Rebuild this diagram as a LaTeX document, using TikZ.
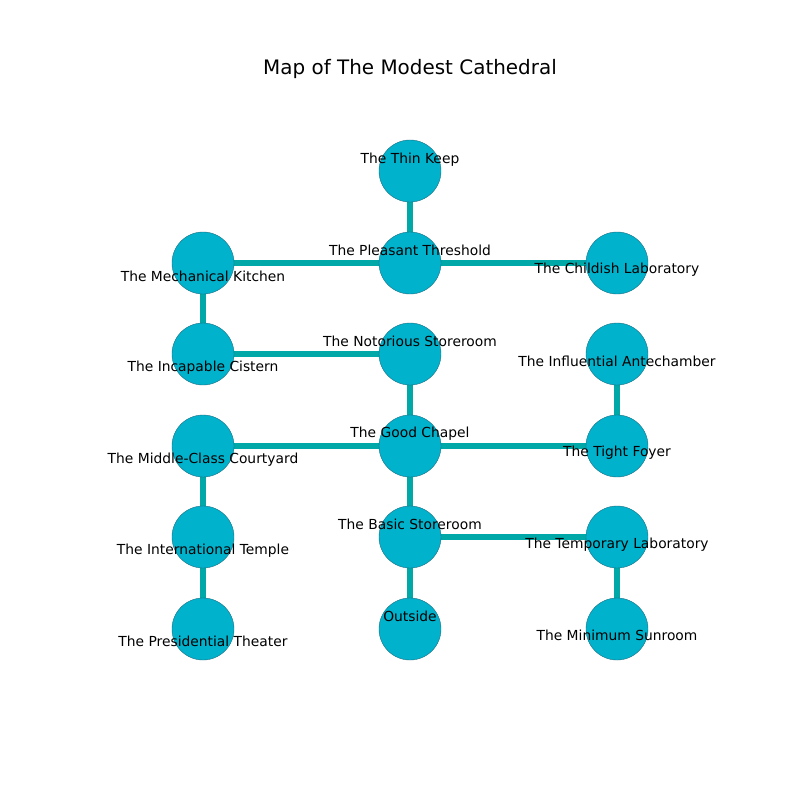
\documentclass[tikz,border=0pt]{standalone}
\usepackage{fontspec}
\setmainfont{DejaVu Sans}
\usetikzlibrary{backgrounds}

\definecolor{roomfill}{RGB}{0,178,204}
\definecolor{roomedge}{RGB}{30,110,130}
\definecolor{passage}{RGB}{0,168,168}

\begin{document}
\begin{tikzpicture}[x=0.254mm, y=-0.254mm,
      room/.style={circle, draw=roomedge, line width=0.3pt, fill=roomfill, minimum size=15.75mm, inner sep=0pt},
      lbl/.style={font=\fontsize{10}{12}\selectfont, inner sep=0pt, yshift=-1.2pt},
      link/.style={draw=passage, line width=4pt}]
      \useasboundingbox (0,0) rectangle (800,800);

      % Title
      \node[font=\fontsize{14.4}{17}\selectfont, yshift=-1.2pt] (title) at (410,67) {Map of The Modest Cathedral};

      % Rooms
      \node[room] (thin) at (410,171) {};
      \node[room] (pleasant) at (410,263) {};
      \node[room] (mechanical) at (203,263) {};
      \node[room] (childish) at (617,263) {};
      \node[room] (incapable) at (203,354) {};
      \node[room] (notorious) at (410,354) {};
      \node[room] (influential) at (617,354) {};
      \node[room] (courtyard) at (203,446) {};
      \node[room] (chapel) at (410,446) {};
      \node[room] (foyer) at (617,446) {};
      \node[room] (temple) at (203,537) {};
      \node[room] (basic) at (410,537) {};
      \node[room] (temporary) at (617,537) {};
      \node[room] (theater) at (203,629) {};
      \node[room] (outside) at (410,629) {};
      \node[room] (sunroom) at (617,629) {};

      % Labels
      \node[lbl] (thin-l) at (410,158) {The Thin Keep};
      \node[lbl] (pleasant-l) at (410,249) {The Pleasant Threshold};
      \node[lbl] (mechanical-l) at (203,275) {The Mechanical Kitchen};
      \node[lbl] (childish-l) at (617,268) {The Childish Laboratory};
      \node[lbl] (incapable-l) at (203,366) {The Incapable Cistern};
      \node[lbl] (notorious-l) at (410,340) {The Notorious Storeroom};
      \node[lbl] (influential-l) at (617,360) {The Influential Antechamber};
      \node[lbl] (courtyard-l) at (203,458) {The Middle-Class Courtyard};
      \node[lbl] (chapel-l) at (410,432) {The Good Chapel};
      \node[lbl] (foyer-l) at (617,451) {The Tight Foyer};
      \node[lbl] (temple-l) at (203,549) {The International Temple};
      \node[lbl] (basic-l) at (410,523) {The Basic Storeroom};
      \node[lbl] (temporary-l) at (617,543) {The Temporary Laboratory};
      \node[lbl] (theater-l) at (203,640) {The Presidential Theater};
      \node[lbl] (outside-l) at (410,615) {Outside};
      \node[lbl] (sunroom-l) at (617,634) {The Minimum Sunroom};

      % Passages
      \begin{scope}[on background layer]
        \foreach \a/\b in {thin/pleasant, mechanical/pleasant, pleasant/childish,
            mechanical/incapable, incapable/notorious, notorious/chapel,
            courtyard/chapel, chapel/foyer, influential/foyer, chapel/basic,
            courtyard/temple, temple/theater, basic/temporary, basic/outside,
            temporary/sunroom}
          \draw[link] (\a.center) -- (\b.center);
      \end{scope}
    \end{tikzpicture}
\end{document}
